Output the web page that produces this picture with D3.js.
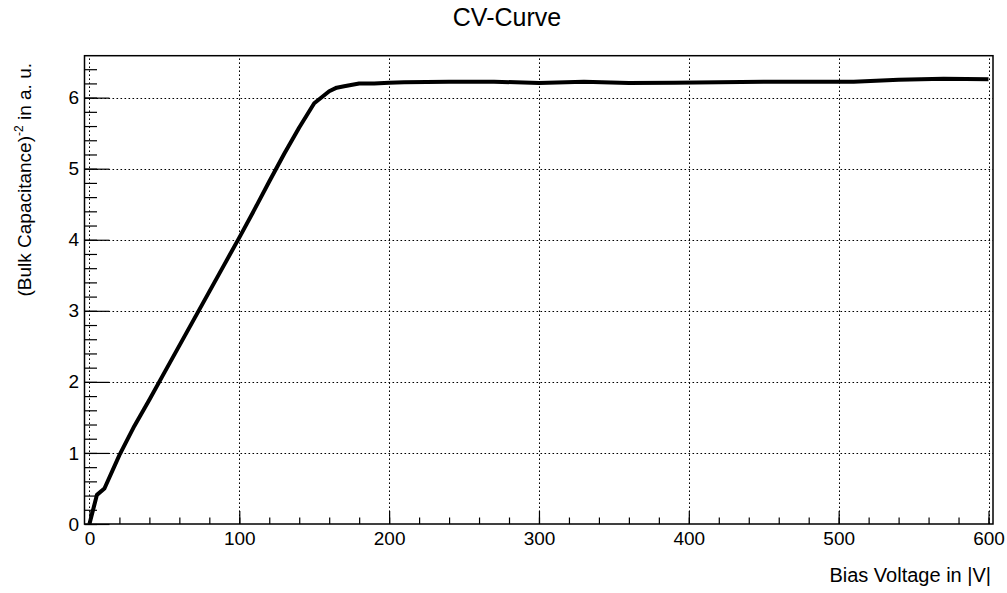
<!DOCTYPE html>
<html>
<head>
<meta charset="utf-8">
<script src="https://cdn.jsdelivr.net/npm/d3@7"></script>
<style>
  html, body { margin: 0; padding: 0; background: #fff; }
  svg { display: block; font-family: "Liberation Sans", Arial, Helvetica, sans-serif; }
</style>
</head>
<body>
<svg id="chart" width="1007" height="593"></svg>
<script>
// ---- data ----
const biasVoltage = [0, 5, 10, 20, 30, 40, 50, 60, 70, 80, 90, 100, 110, 120, 130, 140, 150, 160, 165, 170, 180, 190, 200, 210, 240, 270, 300, 330, 360, 390, 420, 450, 480, 510, 540, 570, 600];
const invCap2 = [0.0, 0.41, 0.50, 0.97, 1.38, 1.75, 2.13, 2.51, 2.89, 3.27, 3.65, 4.03, 4.42, 4.82, 5.21, 5.58, 5.92, 6.09, 6.14, 6.16, 6.20, 6.20, 6.21, 6.215, 6.225, 6.225, 6.205, 6.225, 6.205, 6.21, 6.215, 6.225, 6.225, 6.225, 6.25, 6.265, 6.26];
const xTickValues = [0, 100, 200, 300, 400, 500, 600];
const yTickValues = [0, 1, 2, 3, 4, 5, 6];
const titleText = "CV-Curve";
const xTitle = "Bias Voltage in |V|";

// ---- layout ----
const frame = { left: 84.5, right: 993, top: 55.7, bottom: 524 };
const svg = d3.select("#chart");

const x = d3.scaleLinear().domain([-3.3, 603]).range([frame.left, frame.right]);
const y = d3.scaleLinear().domain([0, 6.59]).range([frame.bottom, frame.top]);

const fontSize = 19;

// grid
const grid = svg.append("g").attr("stroke", "#000").attr("stroke-width", 1)
  .attr("stroke-dasharray", "1.6,2.4").attr("fill", "none");
grid.selectAll("line.vx").data(xTickValues).join("line")
  .attr("x1", d => Math.round(x(d)) + 0.5).attr("x2", d => Math.round(x(d)) + 0.5)
  .attr("y1", frame.bottom).attr("y2", frame.top);
grid.selectAll("line.hy").data(yTickValues.filter(d => d > 0)).join("line")
  .attr("x1", frame.left).attr("x2", frame.right)
  .attr("y1", d => Math.round(y(d)) + 0.5).attr("y2", d => Math.round(y(d)) + 0.5);

// minor ticks
const xMinor = d3.range(0, 601, 20);
const yMinor = d3.range(0, 6.59, 0.2);
svg.append("g").attr("transform", `translate(0,${frame.bottom})`)
  .call(d3.axisBottom(x).tickValues(xMinor).tickSizeInner(-6.5).tickSizeOuter(0).tickFormat(""))
  .call(g => g.select(".domain").remove())
  .selectAll("line").attr("stroke-width", 1.2);
svg.append("g").attr("transform", `translate(${frame.left},0)`)
  .call(d3.axisLeft(y).tickValues(yMinor).tickSizeInner(-12.5).tickSizeOuter(0).tickFormat(""))
  .call(g => g.select(".domain").remove())
  .selectAll("line").attr("stroke-width", 1.2);

// major axes
const xAxis = svg.append("g").attr("transform", `translate(0,${frame.bottom})`)
  .call(d3.axisBottom(x).tickValues(xTickValues).tickSizeInner(-13).tickSizeOuter(0).tickPadding(7.5).tickFormat(d3.format("d")));
xAxis.select(".domain").remove();
xAxis.selectAll("line").attr("stroke-width", 1.2);
xAxis.selectAll("text").attr("font-size", fontSize).attr("font-family", null).attr("fill", "#000");

const yAxis = svg.append("g").attr("transform", `translate(${frame.left},0)`)
  .call(d3.axisLeft(y).tickValues(yTickValues).tickSizeInner(-25).tickSizeOuter(0).tickPadding(5.5).tickFormat(d3.format("d")));
yAxis.select(".domain").remove();
yAxis.selectAll("line").attr("stroke-width", 1.2);
yAxis.selectAll("text").attr("font-size", fontSize).attr("font-family", null).attr("fill", "#000");

// frame
svg.append("rect")
  .attr("x", frame.left).attr("y", frame.top)
  .attr("width", frame.right - frame.left).attr("height", frame.bottom - frame.top)
  .attr("fill", "none").attr("stroke", "#000").attr("stroke-width", 1.5);

// curve
svg.append("clipPath").attr("id", "clip").append("rect")
  .attr("x", frame.left).attr("y", frame.top)
  .attr("width", frame.right - frame.left).attr("height", frame.bottom - frame.top);
const line = d3.line().x((d, i) => x(biasVoltage[i])).y(d => y(d));
svg.append("path").datum(invCap2)
  .attr("clip-path", "url(#clip)")
  .attr("d", line).attr("fill", "none").attr("stroke", "#000")
  .attr("stroke-width", 4).attr("stroke-linejoin", "round");

// title
svg.append("text").attr("x", 507).attr("y", 26).attr("text-anchor", "middle")
  .attr("font-size", 25).text(titleText);

// x title
svg.append("text").attr("x", 991).attr("y", 582).attr("text-anchor", "end")
  .attr("font-size", 20).text(xTitle);

// y title
const yt = svg.append("text").attr("transform", "translate(31,63) rotate(-90)")
  .attr("text-anchor", "end").attr("font-size", fontSize);
yt.append("tspan").text("(Bulk Capacitance)");
yt.append("tspan").attr("dy", -8).attr("font-size", 12).text("-2");
yt.append("tspan").attr("dy", 8).text(" in a. u.");
</script>
</body>
</html>
